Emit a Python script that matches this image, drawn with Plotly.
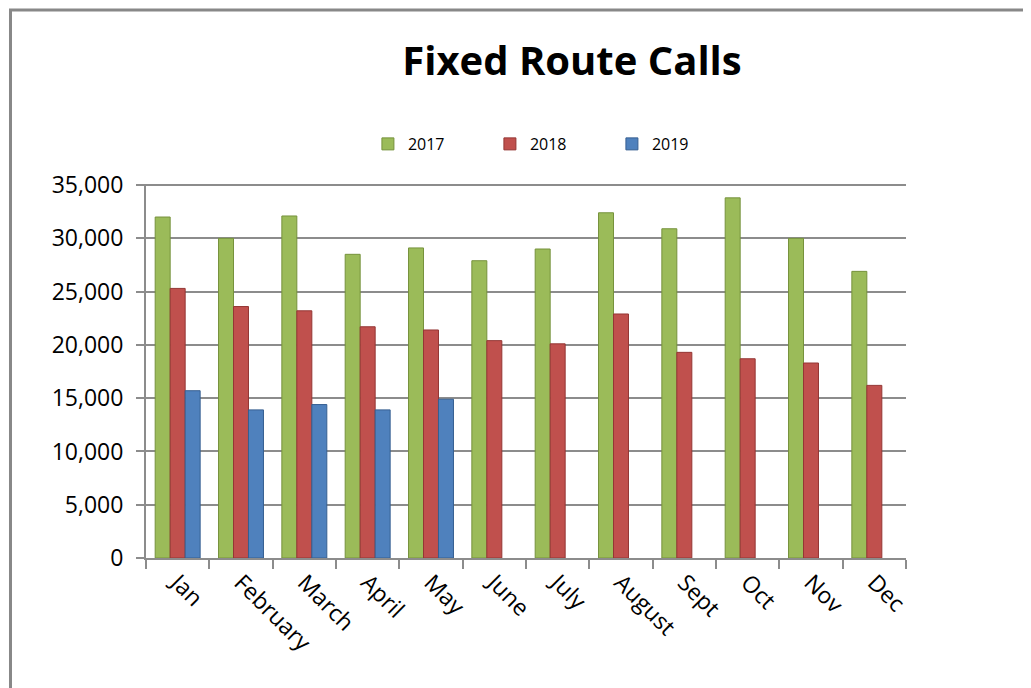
import plotly.graph_objects as go

months = ['Jan', 'February', 'March', 'April', 'May', 'June',
          'July', 'August', 'Sept', 'Oct', 'Nov', 'Dec']
calls_2017 = [32000, 30000, 32100, 28500, 29100, 27900,
              29000, 32400, 30900, 33800, 30000, 26900]
calls_2018 = [25300, 23600, 23200, 21700, 21400, 20400,
              20100, 22900, 19300, 18700, 18300, 16200]
calls_2019 = [15700, 13900, 14400, 13900, 14900]

y_ticks = [0, 5000, 10000, 15000, 20000, 25000, 30000, 35000]

fig = go.Figure()
fig.add_trace(go.Bar(x=months, y=calls_2017, name='2017',
                     marker=dict(color='#9BBB59', line=dict(color='#76923C', width=1))))
fig.add_trace(go.Bar(x=months, y=calls_2018, name='2018',
                     marker=dict(color='#C0504D', line=dict(color='#943634', width=1))))
fig.add_trace(go.Bar(x=months[:len(calls_2019)], y=calls_2019, name='2019',
                     marker=dict(color='#4F81BD', line=dict(color='#365F91', width=1))))

# outer chart frame (only top and left edges are visible in the original)
fig.add_shape(type='rect', xref='paper', yref='paper',
              x0=-0.1783, x1=1.3, y0=-0.5, y1=1.4652,
              line=dict(color='#888888', width=3), layer='below')

fig.update_layout(
    width=1031, height=688,
    margin=dict(l=138, r=133, t=176, b=138),
    paper_bgcolor='white', plot_bgcolor='white',
    font=dict(family='Open Sans', color='black'),
    title=dict(text='<b>Fixed Route Calls</b>', x=0.5605, xref='paper',
               xanchor='center', y=0.923, yanchor='middle',
               font=dict(size=40, color='black')),
    barmode='group', bargap=0.29, bargroupgap=0,
    showlegend=True,
    legend=dict(orientation='h', x=0.292, y=1.107, xanchor='left', yanchor='middle',
                entrywidth=77, entrywidthmode='pixels',
                font=dict(size=16), traceorder='normal'),
)
fig.update_yaxes(range=[0, 35100], tickvals=y_ticks, tickformat=',d',
                 showgrid=True, gridcolor='#8C8C8C', gridwidth=2,
                 showline=True, linecolor='#8C8C8C', linewidth=2,
                 ticks='outside', ticklen=8, tickcolor='#8C8C8C', tickwidth=2,
                 ticklabelstandoff=8,
                 tickfont=dict(size=23), zeroline=False)
fig.update_xaxes(tickangle=45, tickson='boundaries',
                 showline=True, linecolor='#8C8C8C', linewidth=2,
                 ticks='outside', ticklen=9, tickcolor='#8C8C8C', tickwidth=2,
                 tickfont=dict(size=23))

fig.write_html("out.html")
